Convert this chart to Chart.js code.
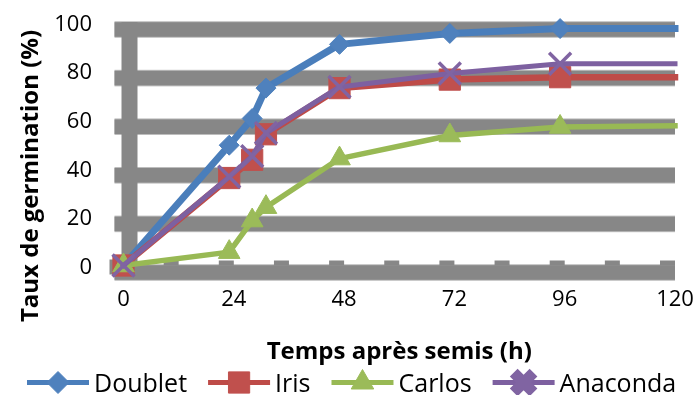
<!DOCTYPE html>
<html lang="fr">
<head>
<meta charset="utf-8">
<title>Taux de germination</title>
<script src="https://cdn.jsdelivr.net/npm/chart.js@4.4.1/dist/chart.umd.min.js"></script>
<style>
  html, body { margin: 0; padding: 0; background: #ffffff; }
  #wrap { width: 698px; height: 395px; }
</style>
</head>
<body>
<div id="wrap"><canvas id="chart" width="698" height="395"></canvas></div>
<script>
// Germination over time (hours after sowing), in %
const hours    = [0, 23, 28, 31, 47, 71, 95, 120];
const doublet  = [0, 49.5, 60.5, 73, 91, 95.5, 97.5, 97.5];
const iris     = [0, 36, 43.5, 54, 73, 76.5, 77.5, 77.5];
const carlos   = [0, 5.5, 18.5, 24, 44, 53.5, 57, 57.5];
const anaconda = [0, 36.5, 45, 54.5, 73.5, 79, 83, 83];

const seriesNames = ['Doublet', 'Iris', 'Carlos', 'Anaconda'];
const xTicks = [0, 24, 48, 72, 96, 120];
const yTicks = [0, 20, 40, 60, 80, 100];
const minorStep = 12;

const xTitle = 'Temps après semis (h)';
const yTitle = 'Taux de germination (%)';

const FONT = "'Open Sans', 'DejaVu Sans', sans-serif";

const toPoints = vals => hours.map((h, i) => ({x: h, y: vals[i]}));
// the last reading only carries the line to the axis end, without a marker
const lastHidden = r => ctx => (ctx.dataIndex === hours.length - 1 ? 0 : r);

function series(label, vals, color, lineColor, style, radius, lineWidth, order, markerBorder) {
  return {
    label,
    data: toPoints(vals),
    borderColor: lineColor,
    backgroundColor: color,
    borderWidth: lineWidth,
    borderJoinStyle: 'round',
    borderCapStyle: 'square',
    tension: 0,
    pointStyle: style,
    pointRadius: lastHidden(radius),
    pointBackgroundColor: color,
    pointBorderColor: color,
    pointBorderWidth: markerBorder,
    order,
    clip: false
  };
}

const datasets = [
  series(seriesNames[0], doublet,  '#4F81BD', '#4A7EBB', 'rectRot',  10,   7, 3, 1),
  series(seriesNames[1], iris,     '#C0504D', '#BE4B48', 'rect',     15,   6.5, 2, 1),
  series(seriesNames[2], carlos,   '#9BBB59', '#98B954', 'triangle', 12.5, 5.5, 1, 1),
  series(seriesNames[3], anaconda, '#8064A2', '#7D60A0', 'crossRot', 15.5, 5,   0, 3.5)
];

// Wide grey bands for the value grid, the vertical axis and the minor ticks
const gridBands = {
  id: 'gridBands',
  beforeDatasetsDraw(chart) {
    const {ctx, scales: {x, y}} = chart;
    const x0 = x.getPixelForValue(xTicks[0]);
    const x1 = x.getPixelForValue(xTicks[xTicks.length - 1]);
    const y0 = y.getPixelForValue(yTicks[0]);
    const yTop = y.getPixelForValue(yTicks[yTicks.length - 1]);
    ctx.save();
    yTicks.forEach(v => {
      const py = y.getPixelForValue(v);
      ctx.fillStyle = '#bdbdbd';
      ctx.fillRect(x0 - 9, py - 1.3, x1 - x0 + 9, 16.6);
      ctx.fillStyle = '#878787';
      ctx.fillRect(x0 - 9, py - 0.3, x1 - x0 + 9, 14.6);
    });
    ctx.fillStyle = '#878787';
    ctx.fillRect(x0 - 2, yTop - 0.5, 16, y0 - yTop + 1);
    for (let h = minorStep; h <= xTicks[xTicks.length - 1]; h += minorStep) {
      const px = x.getPixelForValue(h);
      ctx.fillRect(px - 15, y0 - 5, 15, 5);
    }
    ctx.fillRect(x0 - 14, y0 - 6, 4, 15);
    ctx.restore();
  }
};

// Axis titles and the legend row under the chart
const titlesAndLegend = {
  id: 'titlesAndLegend',
  afterDraw(chart) {
    const {ctx, chartArea} = chart;
    ctx.save();
    ctx.fillStyle = '#000000';
    ctx.font = `bold 24px ${FONT}`;
    ctx.textAlign = 'center';
    ctx.textBaseline = 'alphabetic';
    ctx.fillText(xTitle, (chartArea.left + chartArea.right) / 2, 358.5);

    ctx.save();
    ctx.translate(38, 176);
    ctx.rotate(-Math.PI / 2);
    ctx.fillText(yTitle, 0, 0);
    ctx.restore();

    ctx.font = `25px ${FONT}`;
    ctx.textAlign = 'left';
    const lineY = 382.5, baseY = 391.5, swatch = 62;
    let px = 27;
    const legendMarks = [
      {radius: 11, borderWidth: 1},
      {radius: 15, borderWidth: 1},
      {radius: 13, borderWidth: 1},
      {radius: 14, borderWidth: 11}
    ];
    chart.data.datasets.forEach((ds, i) => {
      ctx.strokeStyle = ds.borderColor;
      ctx.lineWidth = 5;
      ctx.lineCap = 'butt';
      ctx.beginPath();
      ctx.moveTo(px, lineY);
      ctx.lineTo(px + swatch, lineY);
      ctx.stroke();

      const m = legendMarks[i];
      ctx.fillStyle = ds.pointBackgroundColor;
      ctx.strokeStyle = ds.pointBorderColor;
      ctx.lineWidth = m.borderWidth;
      if (Chart.helpers && Chart.helpers.drawPoint) {
        Chart.helpers.drawPoint(ctx, {pointStyle: ds.pointStyle, rotation: 0, radius: m.radius, borderWidth: m.borderWidth}, px + swatch / 2, lineY);
      } else {
        ctx.fillRect(px + swatch / 2 - 10, lineY - 10, 20, 20);
      }

      ctx.fillStyle = '#000000';
      ctx.fillText(ds.label, px + swatch + 5, baseY);
      px += swatch + 5 + ctx.measureText(ds.label).width + 21;
    });
    ctx.restore();
  }
};

new Chart(document.getElementById('chart'), {
  type: 'line',
  data: {datasets},
  plugins: [gridBands, titlesAndLegend],
  options: {
    responsive: false,
    animation: false,
    layout: {padding: {top: 22.5, left: 0, right: 23, bottom: 0}},
    plugins: {legend: {display: false}, tooltip: {enabled: false}},
    scales: {
      x: {
        type: 'linear',
        min: xTicks[0],
        max: xTicks[xTicks.length - 1],
        afterFit(scale) {
          scale.height = 129.5;
          scale.paddingLeft = 0;
          scale.paddingRight = 0;
        },
        afterBuildTicks(scale) { scale.ticks = xTicks.map(v => ({value: v})); },
        grid: {display: false, drawTicks: false},
        border: {display: false},
        ticks: {
          autoSkip: false, maxRotation: 0, padding: 21.5,
          color: '#000000', font: {family: FONT, size: 22}
        }
      },
      y: {
        min: yTicks[0],
        max: yTicks[yTicks.length - 1],
        afterFit(scale) {
          scale.width = 123.5;
          scale.paddingTop = 0;
          scale.paddingBottom = 0;
        },
        afterBuildTicks(scale) { scale.ticks = yTicks.map(v => ({value: v})); },
        grid: {display: false, drawTicks: false},
        border: {display: false},
        ticks: {
          padding: 31.5, labelOffset: 2,
          color: '#000000', font: {family: FONT, size: 22}
        }
      }
    }
  }
});
</script>
</body>
</html>
